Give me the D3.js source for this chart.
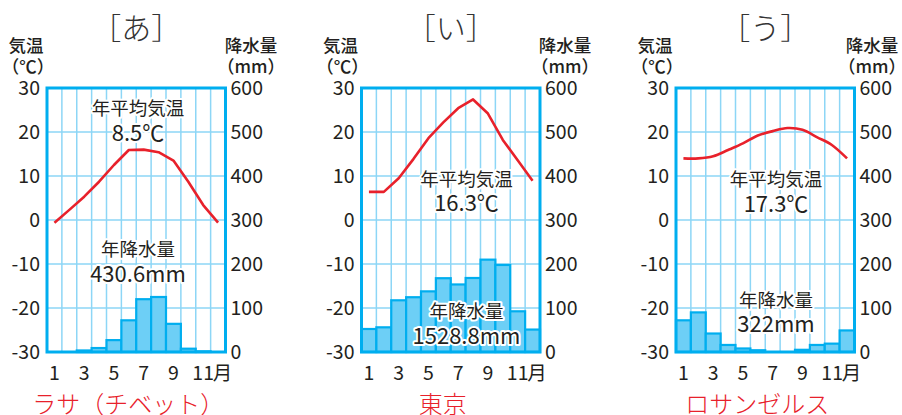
<!DOCTYPE html>
<html>
<head>
<meta charset="utf-8">
<script src="https://cdn.jsdelivr.net/npm/d3@7"></script>
<style>
  body { margin: 0; background: #fff; }
  text { font-family: "Noto Sans CJK JP", "Noto Sans", sans-serif; fill: #231f20; }
</style>
</head>
<body>
<script>
const months = d3.range(1, 13);
const monthTicks = [1, 3, 5, 7, 9, 11];
const tempTicks = [-30, -20, -10, 0, 10, 20, 30];
const precipTicks = [0, 100, 200, 300, 400, 500, 600];
const titles = ["［あ］", "［い］", "［う］"];
const cities = ["ラサ（チベット）", "東京", "ロサンゼルス"];

const lhasaTemp = [-0.6, 2.3, 5.3, 8.7, 12.5, 15.9, 16.0, 15.4, 13.5, 8.7, 3.4, -0.6];
const lhasaPrecip = [0.3, 0.6, 3.5, 9.0, 27.0, 72.0, 120.0, 125.0, 64.0, 7.5, 1.5, 0.2];
const tokyoTemp = [6.4, 6.4, 9.5, 13.9, 18.6, 22.2, 25.4, 27.4, 24.2, 18.2, 13.6, 8.9];
const tokyoPrecip = [52.3, 56.1, 117.5, 124.5, 137.8, 167.7, 153.5, 168.2, 209.9, 197.8, 92.5, 51.0];
const laTemp = [14.0, 14.0, 14.5, 15.9, 17.4, 19.2, 20.2, 20.9, 20.5, 18.8, 17.0, 14.0];
const laPrecip = [72, 90, 42, 16, 8, 4, 0.3, 0.7, 5, 16, 19, 49];

const annualTemp = ["8.5℃", "16.3℃", "17.3℃"];
const annualPrecip = ["430.6mm", "1528.8mm", "322mm"];

const temps = [lhasaTemp, tokyoTemp, laTemp];
const precips = [lhasaPrecip, tokyoPrecip, laPrecip];

// layout of each panel (pixels)
const plotTop = 88, plotBottom = 352, panelW = 178.5;
const layout = [
  { left: 47,    tx: 138,   t1: 107, t2: 131, p1: 248, p2: 272, rx: 251, curve: d3.curveLinear },
  { left: 361.5, tx: 466.5, t1: 178, t2: 201, p1: 310, p2: 334, rx: 565, curve: d3.curveLinear },
  { left: 676,   tx: 776,   t1: 178, t2: 202, p1: 299, p2: 322, rx: 872, curve: d3.curveCardinal }
];

const blue = "#00aeef", grid = "#8dd6f6", barFill = "#6dcff6", red = "#e8212b";

const svg = d3.select("body").append("svg")
  .attr("width", 902)
  .attr("height", 415);

const yT = d3.scaleLinear().domain([-30, 30]).range([plotBottom, plotTop]);
const yP = d3.scaleLinear().domain([0, 600]).range([plotBottom, plotTop]);

layout.forEach((L, i) => {
  const x = d3.scaleBand().domain(months).range([L.left, L.left + panelW]).padding(0);
  const cx = L.left + panelW / 2;
  const g = svg.append("g");

  // grid
  g.selectAll(".vgrid")
    .data(months.slice(1))
    .join("line")
      .attr("x1", d => x(d)).attr("x2", d => x(d))
      .attr("y1", plotTop).attr("y2", plotBottom)
      .attr("stroke", grid).attr("stroke-width", 1.5);
  g.selectAll(".hgrid")
    .data(tempTicks.slice(1, -1))
    .join("line")
      .attr("x1", L.left).attr("x2", L.left + panelW)
      .attr("y1", d => yT(d)).attr("y2", d => yT(d))
      .attr("stroke", grid).attr("stroke-width", 1.5);

  // precipitation bars
  const pData = months.map((m, j) => ({ m, v: precips[i][j] })).filter(d => d.v >= 1);
  g.selectAll(".bar")
    .data(pData)
    .join("rect")
      .attr("x", d => x(d.m))
      .attr("width", x.bandwidth())
      .attr("y", d => yP(d.v))
      .attr("height", d => plotBottom - yP(d.v))
      .attr("fill", barFill)
      .attr("stroke", blue)
      .attr("stroke-width", 2.2);

  // frame
  g.append("rect")
    .attr("x", L.left).attr("y", plotTop)
    .attr("width", panelW).attr("height", plotBottom - plotTop)
    .attr("fill", "none").attr("stroke", blue).attr("stroke-width", 3);

  // temperature line
  const line = d3.line()
    .x((d, j) => x(months[j]) + x.bandwidth() / 2)
    .y(d => yT(d))
    .curve(L.curve);
  g.append("path")
    .datum(temps[i])
    .attr("d", line)
    .attr("fill", "none")
    .attr("stroke", red)
    .attr("stroke-width", 2.6)
    .attr("stroke-linejoin", "round");

  // axes
  const ax = d3.axisLeft(yT).tickValues(tempTicks).tickSize(0).tickPadding(7)
    .tickFormat(d => String(d));
  g.append("g").attr("transform", `translate(${L.left},0)`).call(ax)
    .call(s => s.select(".domain").remove());
  const axR = d3.axisRight(yP).tickValues(precipTicks).tickSize(0).tickPadding(5);
  g.append("g").attr("transform", `translate(${L.left + panelW},0)`).call(axR)
    .call(s => s.select(".domain").remove());
  const axB = d3.axisBottom(x).tickValues(monthTicks).tickSize(0).tickPadding(14);
  const bx = g.append("g").attr("transform", `translate(0,${plotBottom})`).call(axB)
    .call(s => s.select(".domain").remove());
  g.selectAll(".tick text")
    .style("fill", "#231f20")
    .style("font-size", "19.5px")
    .style("font-family", '"Noto Sans CJK JP", sans-serif');
  bx.selectAll(".tick").filter(d => d === 11)
    .append("text")
      .attr("x", 9.5).attr("y", 14).attr("dy", "0.71em")
      .attr("text-anchor", "start")
      .style("fill", "#231f20")
      .style("font-size", "19.5px")
      .text("月");

  // axis titles
  const axisLabel = (tx, ty, txt) => g.append("text")
    .attr("x", tx).attr("y", ty)
    .attr("text-anchor", "middle").attr("dominant-baseline", "central")
    .style("font-size", "17.5px").style("font-weight", 500)
    .text(txt);
  axisLabel(L.left - 21, 44, "気温");
  axisLabel(L.left - 19, 65, "（℃）");
  axisLabel(L.rx, 44, "降水量");
  axisLabel(L.rx, 65, "（mm）");

  // panel title
  g.append("text")
    .attr("x", cx).attr("y", 26)
    .attr("text-anchor", "middle").attr("dominant-baseline", "central")
    .style("font-size", "30px").style("font-weight", 300)
    .style("fill", "#333")
    .text(titles[i]);

  // annotations
  const note = (ty, txt, size) => g.append("text")
    .attr("x", L.tx).attr("y", ty)
    .attr("text-anchor", "middle").attr("dominant-baseline", "central")
    .style("font-size", size + "px")
    .attr("stroke", "#fff").attr("stroke-width", 4)
    .attr("stroke-linejoin", "round")
    .attr("paint-order", "stroke")
    .text(txt);
  note(L.t1, "年平均気温", 18.5);
  note(L.t2, annualTemp[i], 22);
  note(L.p1, "年降水量", 18.5);
  note(L.p2, annualPrecip[i], 22);

  // city name
  g.append("text")
    .attr("x", cx - 8).attr("y", 402)
    .attr("text-anchor", "middle").attr("dominant-baseline", "central")
    .style("font-size", "24px").style("font-weight", 300)
    .style("fill", red)
    .text(cities[i]);
});
</script>
</body>
</html>
